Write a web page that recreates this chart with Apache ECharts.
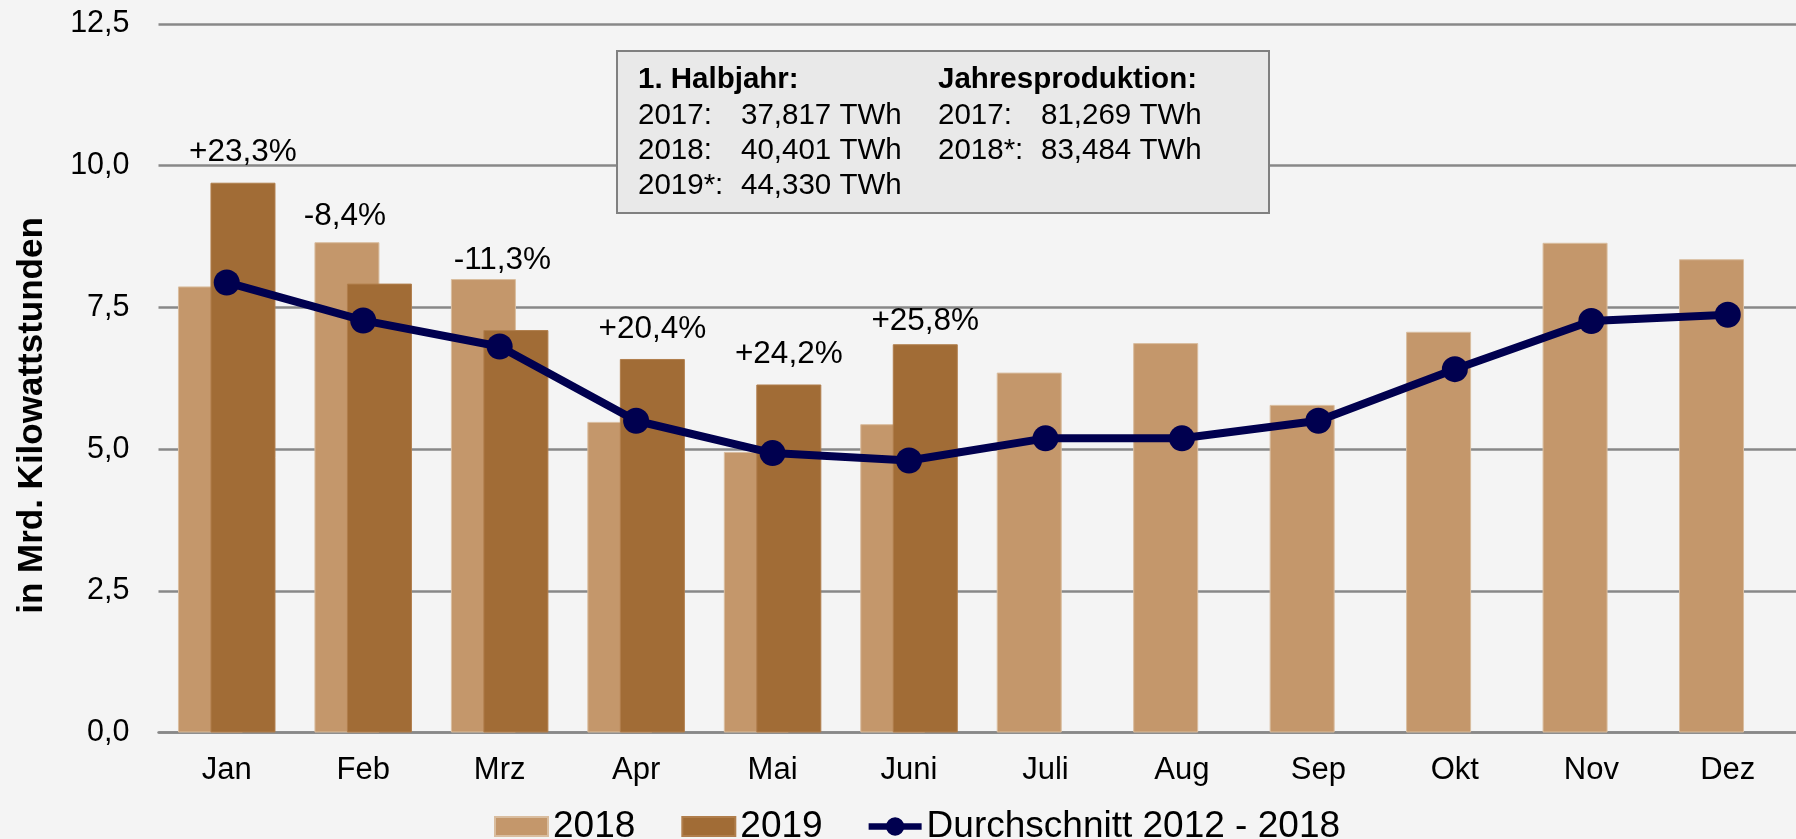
<!DOCTYPE html>
<html>
<head>
<meta charset="utf-8">
<script src="https://cdn.jsdelivr.net/npm/echarts@6/dist/echarts.min.js"></script>
<style>
html,body{margin:0;padding:0;background:#f4f4f4;}
#chart{width:1796px;height:839px;}
</style>
</head>
<body>
<div id="chart"></div>
<script>
const months = ['Jan','Feb','Mrz','Apr','Mai','Juni','Juli','Aug','Sep','Okt','Nov','Dez'];
const prod2018 = [7.87, 8.65, 8.00, 5.48, 4.95, 5.44, 6.35, 6.87, 5.78, 7.07, 8.64, 8.35];
const prod2019 = [9.70, 7.92, 7.10, 6.59, 6.14, 6.85];
const avg20122018 = [7.94, 7.27, 6.81, 5.50, 4.93, 4.80, 5.19, 5.19, 5.50, 6.41, 7.26, 7.37];
const changePct = ['+23,3%', '-8,4%', '-11,3%', '+20,4%', '+24,2%', '+25,8%'];
const seriesNames = ['2018', '2019', 'Durchschnitt 2012 - 2018'];
const yAxisTitle = 'in Mrd. Kilowattstunden';
const boxLeftHead = '1. Halbjahr:';
const boxLeftRows = [['2017:', '37,817 TWh'], ['2018:', '40,401 TWh'], ['2019*:', '44,330 TWh']];
const boxRightHead = 'Jahresproduktion:';
const boxRightRows = [['2017:', '81,269 TWh'], ['2018*:', '83,484 TWh']];

const FONT = "'Liberation Sans', Arial, sans-serif";
const C2018 = '#c4976b';
const C2019 = '#a16c36';
const CLINE = '#00004f';
const CGRID = '#888888';

// label placement tweaks (style, not data)
const labelNudge = [{d: 14, dx: 0}, {d: 10, dx: -2}, {d: 3, dx: 19}, {d: 14, dx: 0}, {d: 14, dx: 0}, {d: 7, dx: 0}];

function pctLabel(i) {
  const n = labelNudge[i];
  return {
    show: true, position: 'top', distance: n.d, offset: [n.dx, 0],
    formatter: changePct[i], color: '#000', fontSize: 31.5, fontFamily: FONT
  };
}

const data2018 = prod2018.map((v, i) => {
  const item = {value: v};
  if (i < changePct.length && prod2018[i] > prod2019[i]) item.label = pctLabel(i);
  return item;
});
const data2019 = prod2019.map((v, i) => {
  const item = {value: v};
  if (i < changePct.length && prod2019[i] >= prod2018[i]) item.label = pctLabel(i);
  return item;
});

const graphics = [];
graphics.push({
  type: 'text', x: 32, y: 415.5, rotation: Math.PI / 2, z: 11,
  style: {text: yAxisTitle, fill: '#000', font: 'bold 35px ' + FONT,
    textAlign: 'center', textVerticalAlign: 'middle'}
});
graphics.push({
  type: 'rect', shape: {x: 617, y: 51, width: 652, height: 162},
  style: {fill: '#e9e9e9', stroke: '#808080', lineWidth: 2}, z: 10
});
function boxText(x, y, t, bold) {
  graphics.push({
    type: 'text', x: x, y: y, z: 11,
    style: {text: t, fill: '#000', font: (bold ? 'bold ' : '') + '29.5px ' + FONT,
      textAlign: 'left', textVerticalAlign: 'middle'}
  });
}
const rowY = [80, 115.5, 150.5, 185.8];
boxText(638, rowY[0], boxLeftHead, true);
boxLeftRows.forEach((r, i) => { boxText(638, rowY[i + 1], r[0]); boxText(741, rowY[i + 1], r[1]); });
boxText(938, rowY[0], boxRightHead, true);
boxRightRows.forEach((r, i) => { boxText(938, rowY[i + 1], r[0]); boxText(1041, rowY[i + 1], r[1]); });

const lineIcon = 'path://M0,6.5h58v7h-58z M39,10a10,10 0 1,1 -20,0a10,10 0 1,1 20,0z';

const chart = echarts.init(document.getElementById('chart'), null, {renderer: 'canvas'});
chart.setOption({
  backgroundColor: '#f4f4f4',
  animation: false,
  textStyle: {fontFamily: FONT},
  grid: {left: 158.5, top: 24, width: 1645, height: 708.5, containLabel: false},
  legend: {
    data: [
      {name: seriesNames[0], icon: 'rect'},
      {name: seriesNames[1], icon: 'rect'},
      {name: seriesNames[2], icon: lineIcon}
    ],
    left: 494, top: 808, padding: 0,
    itemWidth: 53, itemHeight: 19, itemGap: 46,
    textStyle: {fontSize: 37, color: '#000', fontFamily: FONT}
  },
  xAxis: {
    type: 'category', data: months,
    axisLine: {lineStyle: {color: CGRID, width: 2.5}},
    axisTick: {show: false},
    axisLabel: {fontSize: 31, color: '#000', margin: 22, fontFamily: FONT}
  },
  yAxis: {
    type: 'value', min: 0, max: 12.5, interval: 2.5,
    axisLine: {show: false}, axisTick: {show: false},
    axisLabel: {fontSize: 30.5, color: '#000', margin: 29, fontFamily: FONT,
      formatter: v => v.toFixed(1).replace('.', ',')},
    splitLine: {lineStyle: {color: CGRID, width: 2.5}}
  },
  series: [
    {name: seriesNames[0], type: 'bar', data: data2018, barWidth: 65, barGap: '-50%',
      itemStyle: {color: C2018, borderColor: '#d9bd9f', borderWidth: 1}, z: 2},
    {name: seriesNames[1], type: 'bar', data: data2019, barWidth: 65, barGap: '-50%',
      itemStyle: {color: C2019, borderColor: '#b07e4c', borderWidth: 1}, z: 3},
    {name: seriesNames[2], type: 'line', data: avg20122018, symbol: 'circle', symbolSize: 26,
      lineStyle: {color: CLINE, width: 8}, itemStyle: {color: CLINE}, z: 5}
  ],
  graphic: graphics
});
</script>
</body>
</html>
